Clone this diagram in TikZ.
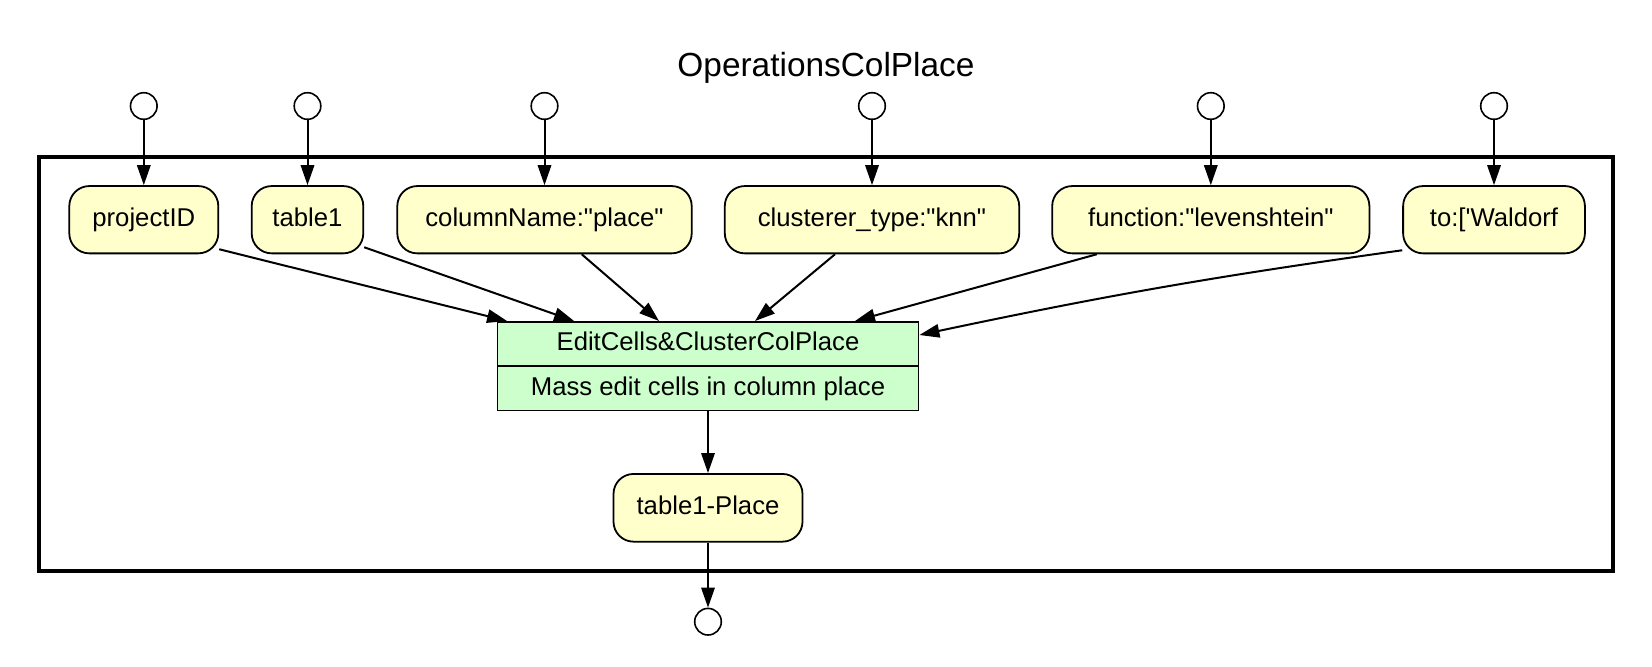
\documentclass[tikz,border=0pt]{standalone}
\usepackage{fontspec}
\setmainfont{Liberation Sans}
\usetikzlibrary{arrows.meta,shapes.multipart,calc}
\definecolor{nodeyellow}{HTML}{FFFFCC}
\definecolor{nodegreen}{HTML}{CCFFCC}
\begin{document}
\begin{tikzpicture}[x=0.5pt,y=-0.5pt,
  data/.style={draw, fill=nodeyellow, rounded corners=10pt, line width=0.9pt,
    minimum height=33.65pt, inner sep=0pt, font=\fontsize{12.85}{15}\selectfont,
    text height=9.5pt, text depth=3pt},
  port/.style={draw, circle, minimum size=13.3pt, inner sep=0pt, line width=0.8pt, fill=white},
  flow/.style={line width=1pt, -{Triangle[length=10pt,width=6.7pt]}},
  frame/.style={draw, line width=2pt, inner sep=0pt, outer sep=0pt},
  task/.style={rectangle split, rectangle split parts=2, draw, fill=nodegreen,
    line width=0.8pt, inner ysep=0pt, inner xsep=2pt, font=\fontsize{12.85}{15}\selectfont},
]
\useasboundingbox (0,0) rectangle (1652,666);

\node[anchor=base, font=\fontsize{16.7}{20}\selectfont] (title) at (826,76.5) {OperationsColPlace};

\node[frame, minimum width=786.7pt, minimum height=206.7pt] (cluster) at (826,364) {};

% inputs
\node[data, minimum width=74.5pt]  (projectID) at (143.8,219.7) {projectID};
\node[data, minimum width=55.8pt]  (table1)    at (307.5,219.7) {table1};
\node[data, minimum width=147.2pt] (colname)   at (544.5,219.7) {columnName:\textquotedbl place\textquotedbl};
\node[data, minimum width=147.2pt] (clus)      at (872,219.7)   {clusterer\_type:\textquotedbl knn\textquotedbl};
\node[data, minimum width=158.6pt] (func)      at (1210.8,219.7) {function:\textquotedbl levenshtein\textquotedbl};
\node[data, minimum width=90.9pt]  (wald)      at (1494,219.7)  {to:[\textquotesingle Waldorf};

\node[port] (p1) at (143.8,106) {};
\node[port] (p2) at (307.5,106) {};
\node[port] (p3) at (544.5,106) {};
\node[port] (p4) at (872,106) {};
\node[port] (p5) at (1210.8,106) {};
\node[port] (p6) at (1494,106) {};

% task
\node[task, minimum width=210.6pt, anchor=north] (rec) at (708,321)
  {\rule[-7.4pt]{0pt}{21.4pt}EditCells\&ClusterColPlace
   \nodepart{two}\rule[-7.4pt]{0pt}{21.4pt}Mass edit cells in column place};

\node[data, minimum width=94.5pt, minimum height=33.85pt] (out) at (708,507.8) {table1-Place};
\node[port] (pout) at (708,621.7) {};

% edges
\draw[flow] (p1) -- (projectID);
\draw[flow] (p2) -- (table1);
\draw[flow] (p3) -- (colname);
\draw[flow] (p4) -- (clus);
\draw[flow] (p5) -- (func);
\draw[flow] (p6) -- (wald);

\draw[flow] ($(projectID.south east)+(0,-5)$) -- ($(rec.north west)+(10.5,0)$);
\draw[flow] ($(table1.south east)+(0,-7)$) -- ($(rec.north west)+(77.5,0)$);
\draw[flow] ($(colname.south)+(37.2,0)$) -- ($(rec.north)+(-49,0)$);
\draw[flow] ($(clus.south)+(-37,0)$) -- ($(rec.north)+(47,0)$);
\draw[flow] ($(func.south)+(-114,0)$) -- ($(rec.north)+(147,0)$);
\draw[flow] ($(wald.south west)+(0,-4)$) to[bend right=2] ($(rec.north east)+(0,14)$);

\draw[flow] (rec.south) -- (out.north);
\draw[flow] (out) -- (pout);
\end{tikzpicture}
\end{document}
